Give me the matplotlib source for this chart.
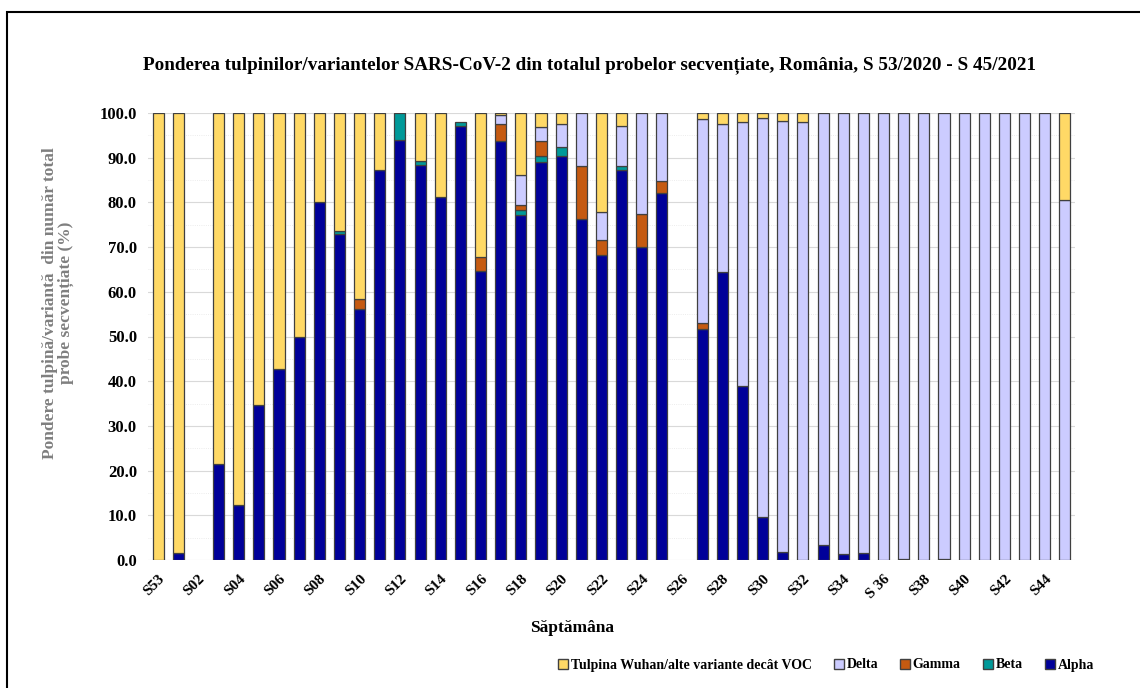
import numpy as np
import matplotlib
matplotlib.use("Agg")
import matplotlib.pyplot as plt
from matplotlib.patches import Rectangle, Patch

plt.rcParams['font.family'] = ['Liberation Serif', 'DejaVu Serif']
plt.rcParams['font.weight'] = 'bold'

weeks = ["S53", "S01", "S02", "S03", "S04", "S05", "S06", "S07", "S08", "S09",
         "S10", "S11", "S12", "S13", "S14", "S15", "S16", "S17", "S18", "S19",
         "S20", "S21", "S22", "S23", "S24", "S25", "S26", "S27", "S28", "S29",
         "S30", "S31", "S32", "S33", "S34", "S35", "S 36", "S37", "S38", "S39",
         "S40", "S41", "S42", "S43", "S44", "S45"]

alpha = [0, 1.6, 0, 21.5, 12.2, 34.6, 42.8, 50.0, 80.2, 73.0,
         56.1, 87.2, 93.9, 88.4, 81.3, 97.0, 64.7, 93.7, 77.2, 89.0,
         90.3, 76.3, 68.3, 87.3, 70.1, 82.2, 0, 51.6, 64.5, 39.0,
         9.6, 1.9, 0, 3.3, 1.3, 1.6, 0, 0.2, 0, 0.2,
         0, 0, 0, 0, 0, 0]
beta = [0, 0, 0, 0, 0, 0, 0, 0, 0, 0.7,
        0, 0, 6.1, 0.9, 0, 0.9, 0, 0, 1.0, 1.4,
        2.0, 0, 0, 0.9, 0, 0, 0, 0, 0, 0,
        0, 0, 0, 0, 0, 0, 0, 0, 0, 0,
        0, 0, 0, 0, 0, 0]
gamma = [0, 0, 0, 0, 0, 0, 0, 0, 0, 0,
         2.4, 0, 0, 0, 0, 0, 3.0, 3.9, 1.2, 3.4,
         0, 11.8, 3.2, 0, 7.4, 2.5, 0, 1.5, 0, 0,
         0, 0, 0, 0, 0, 0, 0, 0, 0, 0,
         0, 0, 0, 0, 0, 0]
delta = [0, 0, 0, 0, 0, 0, 0, 0, 0, 0,
         0, 0, 0, 0, 0, 0, 0, 2.0, 6.8, 3.1,
         5.2, 11.9, 6.3, 9.0, 22.5, 15.3, 0, 45.6, 33.1, 58.9,
         89.2, 96.3, 98.0, 96.7, 98.7, 98.4, 100, 99.8, 100, 99.8,
         100, 100, 100, 100, 100, 80.6]
wuhan = [100, 98.4, 0, 78.5, 87.8, 65.4, 57.2, 50.0, 19.8, 26.3,
         41.5, 12.8, 0, 10.7, 18.7, 0, 32.3, 0.4, 13.8, 3.1,
         2.5, 0, 22.2, 2.8, 0, 0, 0, 1.3, 2.4, 2.1,
         1.2, 1.8, 2.0, 0, 0, 0, 0, 0, 0, 0,
         0, 0, 0, 0, 0, 19.4]

series = [("Alpha", alpha, "#000099"),
          ("Beta", beta, "#009999"),
          ("Gamma", gamma, "#c55a11"),
          ("Delta", delta, "#ccccff"),
          ("Tulpina Wuhan/alte variante decât VOC", wuhan, "#ffd966")]

fig = plt.figure(figsize=(11.4, 6.88), dpi=100)
ax = fig.add_axes([148/1140, 1-560/688, (1075-148)/1140, (560-113)/688])

x = np.arange(len(weeks))
bottom = np.zeros(len(weeks))
for name, vals, col in series:
    vals = np.array(vals, dtype=float)
    bars = ax.bar(x, vals, 0.55, bottom=bottom, color=col, edgecolor="#404040",
                  linewidth=0.9, zorder=3)
    # empty weeks: no outline at all
    for b, v in zip(bars, vals):
        if v == 0:
            b.set_visible(False)
    bottom += vals

ax.set_xlim(-0.5, 45.5)
ax.set_ylim(0, 100)
ax.set_yticks(np.arange(0, 101, 10))
ax.set_yticklabels([f"{v:.1f}" for v in range(0, 101, 10)], fontsize=12, fontweight="bold")
ax.set_yticks(np.arange(0, 101, 5), minor=True)
ax.tick_params(axis="y", which="both", length=0, pad=8)
ax.grid(axis="y", which="major", color="#d9d9d9", linewidth=0.8, zorder=0)
ax.grid(axis="y", which="minor", color="#e6e6e6", linewidth=0.6, linestyle=":", zorder=0)
ax.set_xticks(x[::2])
ax.set_xticklabels(weeks[::2], rotation=45, ha="right", rotation_mode="anchor",
                   fontsize=11, fontweight="bold")
ax.tick_params(axis="x", length=0, pad=9)
for s in ax.spines.values():
    s.set_visible(False)

fig.text(0.517, 1-65/688, "Ponderea tulpinilor/variantelor SARS-CoV-2 din totalul probelor secvențiate, România, S 53/2020 - S 45/2021",
         ha="center", va="center", fontsize=13.8, fontweight="bold")
fig.text(572/1140, 1-628/688, "Săptămâna", ha="center", va="center", fontsize=12.5, fontweight="bold")
fig.text(58/1140, 1-303/688, "Pondere tulpină/variantă  din număr total\nprobe secvențiate (%)",
         ha="center", va="center", rotation=90, fontsize=12.5, fontweight="bold",
         color="#7f7f7f", linespacing=1.0)

handles = [Patch(facecolor=c, edgecolor="#404040", label=n) for n, v, c in series[::-1]]
fig.legend(handles=handles, loc="center", bbox_to_anchor=(826/1140, 1-665/688), ncol=5,
           frameon=False, handlelength=0.7, handleheight=0.7,
           handletextpad=0.2, columnspacing=1.6, prop={"weight": "bold", "size": 10})

fig.patches.append(Rectangle((7/1140, -0.1), 1.2, 1.1-12/688, transform=fig.transFigure,
                             fill=False, edgecolor="black", linewidth=1.5))

fig.savefig("out.png", dpi=100)
